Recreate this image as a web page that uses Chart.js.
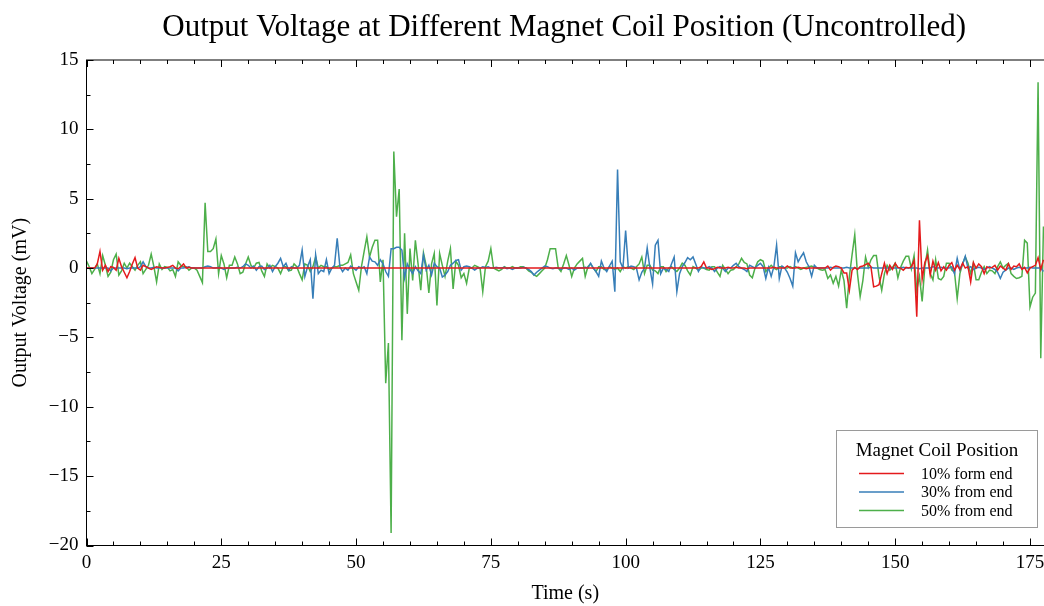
<!DOCTYPE html>
<html>
<head>
<meta charset="utf-8">
<title>Output Voltage at Different Magnet Coil Position</title>
<script src="https://cdn.jsdelivr.net/npm/chart.js@4.4.0/dist/chart.umd.min.js"></script>
<style>
  html, body { margin: 0; padding: 0; background: #ffffff; }
  #wrap { width: 1044px; height: 606px; }
</style>
</head>
<body>
<div id="wrap"><canvas id="voltageChart" width="1044" height="606"></canvas></div>
<script>
// Sampling period of the recorded signal (s)
const timeStep = 0.5;

// Output voltage (mV), one row per 10 s of recording
const volts10 = [
  0, 0, 0, 0, 0.3, 1.2, -0.15, 0.2, -0.25, 0.1, 0.05, -0.15, 0.7, 0.1, -0.3, -0.7, -0.25, 0.3, 0.75, 0.0,
  -0.15, 0.2, 0.1, 0.0, -0.1, 0.0, 0.1, 0.05, 0.0, 0.0, 0.05, 0.1, 0.2, 0.0, -0.05, 0.1, 0.3, 0.0, 0.05, 0.0,
  0, 0, 0, 0, 0, 0, 0, 0, 0, 0, 0, 0, 0, 0, 0, 0, 0, 0, 0, 0,
  0, 0, 0, 0, 0, 0, 0, 0, 0, 0, 0, 0, 0, 0, 0, 0, 0, 0, 0, 0,
  0, 0, 0, 0, 0, 0, 0, 0, 0, 0, 0, 0, 0, 0, 0, 0, 0, 0, 0, 0,
  0, 0, 0, 0, 0, 0, 0, 0, 0, 0, 0, 0, 0, 0, 0, 0, 0, 0, 0, 0,
  0, 0, 0, 0, 0, 0, 0, 0, 0, 0, 0, 0, 0, 0, 0, 0, 0, 0, 0, 0,
  0, 0, 0, 0, 0, 0, 0, 0, 0, 0, 0, 0, 0, 0, 0, 0, 0, 0, 0, 0,
  0, 0, 0, 0, 0, 0, 0, 0, 0, 0, 0, 0, 0, 0, 0, 0, 0, 0, 0, 0,
  0, 0, 0, 0, 0, 0, 0, 0, 0, 0, 0, 0, 0, 0, 0, 0, 0, 0, 0, 0,
  0, 0, 0, 0, 0, 0, 0, 0, 0, 0, 0, 0, 0, 0, 0, 0, 0, 0, 0, 0,
  0, 0, 0, 0, 0, 0, 0, 0, 0.1, 0.45, 0.0, 0.0, -0.1, -0.05, 0.05, 0.0, 0.0, 0.0, 0.05, 0.0,
  0, 0.05, 0, 0, 0, -0.05, 0, 0, 0, 0, 0, 0, 0, 0, 0, 0.05, 0, 0, 0, 0,
  0.15, 0, 0, 0, 0.05, 0, 0, -0.05, 0, 0, 0, 0, 0, 0, 0, 0.15, -0.15, 0.05, 0.15, 0.1,
  0.0, -0.35, -0.35, -1.6, -0.15, 0.05, -0.1, 0.1, 0.15, 0.25, 0.35, 0.1, -1.35, -1.3, -1.2, -0.4, 0.35, -0.4, 0.2, -0.1,
  0.35, 0.05, 0.0, -0.15, 0.05, 0.0, 0.1, 0.55, -3.5, 3.45, -0.8, 0.4, 0.9, -0.5, 0.5, -0.15, 0.4, -0.2, 0.1, -0.15,
  0.2, 0.4, -0.15, 0.2, -0.1, 0.35, 0.0, 0.1, -1.0, 0.4, 0.0, 0.3, 0.1, -0.4, 0.1, 0.0, 0.05, 0.2, -0.15, 0.15,
  0.0, -0.15, 0.3, -0.1, 0.15, 0.1, 0.3, -0.1, 0.05, -0.35, 0.0, 0.1, 0.2, 0.75, -0.1, 0.6
];

const volts30 = [
  0, 0, 0, 0, 0, 0, 0, 0, 0, -0.2, 0, 0, 0, 0, 0, -0.05, 0, 0, 0, 0,
  0.1, 0.45, 0.1, 0, 0, 0.05, 0, 0, 0, 0, 0, 0, 0, 0, -0.2, 0, 0, 0.05, 0.1, 0,
  0, 0, 0, 0, 0.1, 0.15, 0.1, 0, 0, 0.05, 0, -0.1, 0, 0, 0, 0, 0.05, 0, 0.1, 0.3,
  0.2, 0.0, 0.15, -0.15, 0.1, 0.15, -0.1, 0.0, 0.2, -0.25, 0.1, 0.35, 0.7, 0.1, 0.35, -0.15, 0.1, 0.0, 0.0, 0.2,
  1.3, -0.6, 0.1, 0.6, -2.2, 0.95, -0.4, -0.15, -0.25, 0.6, -0.4, 0.0, 0.2, 2.15, 0.1, -0.25, 0.0, -0.15, 0.15, 0.0,
  -0.15, 0.1, 0.0, 0.1, -0.4, 0.8, 0.5, 0.45, 0.2, 0.6, 0.3, -0.25, -0.6, 1.4, 1.4, 1.5, 1.5, 1.3, -0.7, 0.3,
  -0.1, -0.4, 0.1, -0.2, -0.4, 0.95, -0.15, 0.2, -0.5, 0.35, 0.1, 0.0, -0.65, -0.5, -0.25, 0.2, 0.35, 0.55, 0.6, -0.15,
  0.1, 0.15, 0.1, 0.0, -0.15, 0.0, 0.0, 0.1, 0.05, 0.1, 0.0, 0.0, 0.05, 0.0, 0.0, 0.05, -0.05, 0.0, -0.1, 0.0,
  0.0, 0.0, 0.05, 0.0, -0.1, -0.25, -0.5, -0.3, -0.15, 0.0, 0.15, 0.1, 0.0, -0.05, 0.0, 0.0, -0.1, 0.0, 0.0, -0.1,
  0.0, -0.15, 0.0, 0.0, 0.0, 0.05, 0.0, 0.35, 0.0, -0.25, -0.6, 0.5, 0.0, -0.25, 0.15, 0.5, -1.7, 7.1, 0.45, 0.0,
  2.7, 0.0, 0.15, 0.1, 0.0, -0.85, -0.3, 0.0, 1.45, 0.0, -1.15, 1.65, 2.0, -0.4, 0.0, -0.1, -0.25, 0.3, 0.8, -1.7,
  -0.4, 0.1, 0.4, 0.75, 0.6, 0.8, 0.3, -0.25, 0.1, 0.0, 0.0, 0.1, 0.0, -0.25, 0.0, 0.1, 0.0, -0.25, 0.0, 0.0,
  0.2, 0.35, 0.1, 0.0, -0.1, -0.25, 0.2, 0.1, 0.0, 0.2, 0.35, 0.1, -0.75, 0.05, -0.6, 0.1, 1.65, -0.75, 0.15, 0.0,
  -0.3, -0.75, -1.3, 1.1, 0.45, 0.8, 1.1, 0.45, 0.1, -0.6, 0.2, 0.0, 0.0, 0.0, 0.0, 0.0, 0.05, 0.0, 0.0, 0.0,
  0, 0, 0.05, 0, 0, 0, -0.05, 0, 0, 0, 0, 0.05, 0, 0, 0, 0, 0, 0, 0, 0,
  0, 0, 0, 0.05, 0, 0, 0, 0, 0, -0.05, 0, 0, 0, 0, 0.1, 0, 0, 0.05, 0, 0,
  0.0, 0.1, -0.4, 0.7, -0.15, 0.3, 0.85, 0.0, 0.1, -0.1, 0.0, 0.05, 0.0, -0.1, 0.0, 0.1, 0.0, -0.1, -0.3, -0.75,
  -0.3, -0.15, 0.0, 0.0, -0.1, 0.0, 0.05, 0.0, 0.0, 0.0, 0.05, 0.0, 0.0, 0.0, 0.0, -0.25
];

const volts50 = [
  0.5, 0.1, -0.4, -0.1, 0.3, -0.4, 0.9, 0.2, -0.6, -0.3, 0.6, 1.0, -0.5, -0.2, 0.35, 0.0, 0.35, 0.1, -0.15, 0.2,
  0.45, -0.4, -0.1, 0.2, 1.0, 0.1, -1.0, 0.3, -0.1, 0.1, 0.05, -0.2, -0.1, -0.6, 0.45, 0.2, 0.1, 0.1, -0.15, 0.0,
  0.0, -0.15, -0.6, -1.05, 4.7, 1.2, 1.2, 1.4, 2.1, -0.4, 0.9, 0.3, -0.7, 0.2, 0.2, 0.8, 0.3, -0.4, -0.3, 0.3,
  0.8, 0.2, 0.0, 0.35, 0.4, -0.2, -0.6, 0.3, 0.0, 0.2, 0.1, 0.0, -0.4, 0.1, 0.1, -0.2, -0.15, 0.3, 0.1, -0.4,
  -0.85, 0.3, 0.2, -0.25, 0.1, 0.8, 0.0, 0.2, 0.1, 0.1, -0.1, 0.0, 0.1, 0.1, 0.2, 0.2, 0.3, 0.4, 0.95, -0.4,
  -1.0, -1.6, 0.1, 1.2, 2.25, 0.8, 1.5, 2.0, 2.0, -1.0, 0.6, -8.3, -5.4, -19.1, 8.4, 3.7, 5.7, -5.2, 2.5, -3.3,
  1.4, -0.9, 2.0, 0.3, -1.6, 1.1, 0.2, -1.8, 0.3, 1.05, -2.7, 1.05, 0.2, -0.6, 0.5, 1.4, -1.5, 0.5, 0.2, -0.7,
  -0.4, -1.1, 0.0, 0.0, 0.2, 0.1, 0.0, -1.7, 0.1, 0.5, 1.4, 0.0, -0.1, -0.2, -0.1, 0.1, 0.0, 0.0, 0.1, 0.0,
  0.0, 0.1, 0.1, 0.0, -0.2, -0.3, -0.5, -0.6, -0.4, -0.2, 0.0, 0.6, 1.4, 1.4, 1.4, 0.0, -0.25, 0.3, 0.9, 0.2,
  -0.6, 0.0, 0.3, 0.5, 0.7, -0.6, 0.1, 0.3, 0.0, -0.25, 0.1, 0.1, -0.1, -0.1, 0.1, 0.0, -0.1, 0.0, -0.25, 0.1,
  0.0, 0.1, 0.0, -0.1, 0.1, 0.3, 0.8, -0.4, 0.2, 0.2, -0.15, -0.2, -0.4, 0.1, 0.1, -0.25, 0.0, 0.1, -0.1, -0.25,
  0.0, 0.35, 0.2, -0.2, -0.5, 0.1, 0.0, -0.15, 0.0, 0.0, -0.1, -0.15, 0.1, 0.1, -0.3, -0.6, 0.2, -0.1, -0.4, -0.15,
  -0.1, 0.1, 0.3, 0.7, 0.4, 0.3, -0.5, -0.7, 0.0, 0.45, 0.6, 0.5, -0.25, 0.0, 0.2, 0.0, -0.1, 0.1, 0.1, 0.0,
  0.0, 0.1, 0.0, 0.1, 0.0, -0.1, 0.0, 0.05, 0.1, 0.15, 0.05, 0.0, -0.1, -0.15, -0.1, -0.75, -0.5, -1.1, -0.6, -1.3,
  -0.15, -0.9, -2.9, -0.6, 0.95, 2.4, -0.4, -2.05, -0.9, 0.8, 0.05, 0.6, 0.9, 0.9, -0.6, -1.6, -0.4, 0.2, -0.15, 0.05,
  0.35, -0.7, 0.05, 0.5, 0.85, 0.85, -0.05, 0.9, -1.6, -0.6, -2.4, 0.1, 1.3, -0.4, -0.85, 0.6, -0.75, -0.85, -0.6, 0.35,
  0.35, -0.15, -0.3, -2.2, -0.4, 0.3, 0.8, 0.35, -0.4, 0.35, -0.85, -0.85, -0.3, 0.1, -0.4, -0.15, -0.2, -0.4, 0.1, 0.45,
  0.0, 0.2, 0.35, -0.4, -0.6, -0.75, -0.7, -0.6, 2.0, 1.8, -2.8, -2.1, -1.8, 13.4, -6.5, 3.0
];

const seriesLabels = ['10% form end', '30% from end', '50% from end'];
const seriesColors = ['#e41a1c', '#377eb8', '#4daf4a'];
const xTickStep = 25;
const yTickStep = 5;

const serif = "'Liberation Serif', 'Times New Roman', serif";
Chart.defaults.font.family = serif;
Chart.defaults.color = '#000';

function toPoints(values) {
    return values.map((v, i) => ({ x: i * timeStep, y: v }));
}

// frame + inward ticks (the right edge of the frame sits just past the canvas, as in the original)
const frameTicks = {
    id: 'frameTicks',
    afterDraw(chart) {
        const { ctx, chartArea: a, scales: { x, y } } = chart;
        const right = a.right + 2;
        ctx.save();
        ctx.strokeStyle = '#000';
        ctx.lineWidth = 1;
        ctx.strokeRect(a.left, a.top, right - a.left, a.bottom - a.top);
        ctx.beginPath();
        for (let t = 0; t <= x.max; t += 5) {
            const px = Math.round(x.getPixelForValue(t)) + 0.5;
            const len = t % xTickStep === 0 ? 7 : 4;
            ctx.moveTo(px, a.bottom); ctx.lineTo(px, a.bottom - len);
            ctx.moveTo(px, a.top); ctx.lineTo(px, a.top + len);
        }
        for (let v = y.min; v <= y.max; v += 2.5) {
            const py = Math.round(y.getPixelForValue(v)) + 0.5;
            const len = v % yTickStep === 0 ? 7 : 4;
            ctx.moveTo(a.left, py); ctx.lineTo(a.left + len, py);
        }
        ctx.stroke();
        ctx.restore();
    }
};

// title centred over the plot area
const plotTitle = {
    id: 'plotTitle',
    afterDraw(chart) {
        const { ctx, chartArea: a } = chart;
        ctx.save();
        ctx.font = '31px ' + serif;
        ctx.fillStyle = '#000';
        ctx.textAlign = 'center';
        ctx.textBaseline = 'alphabetic';
        ctx.fillText('Output Voltage at Different Magnet Coil Position (Uncontrolled)', (a.left + a.right) / 2 - 1, 36);
        ctx.restore();
    }
};

// boxed legend in the lower right corner of the plot
const boxLegend = {
    id: 'boxLegend',
    afterDraw(chart) {
        const { ctx } = chart;
        const bx = 836.5, by = 430.5, bw = 201, bh = 97;
        ctx.save();
        ctx.fillStyle = '#fff';
        ctx.fillRect(bx, by, bw, bh);
        ctx.strokeStyle = '#9a9a9a';
        ctx.lineWidth = 1;
        ctx.strokeRect(bx, by, bw, bh);
        ctx.fillStyle = '#000';
        ctx.textAlign = 'center';
        ctx.textBaseline = 'alphabetic';
        ctx.font = '19px ' + serif;
        ctx.fillText('Magnet Coil Position', bx + bw / 2, by + 25);
        ctx.font = '16px ' + serif;
        ctx.textAlign = 'left';
        chart.data.datasets.forEach((ds, i) => {
            const rowY = by + 43 + i * 18.5;
            ctx.strokeStyle = ds.borderColor;
            ctx.lineWidth = 1.5;
            ctx.beginPath();
            ctx.moveTo(859, rowY);
            ctx.lineTo(904, rowY);
            ctx.stroke();
            ctx.fillText(ds.label, 921, rowY + 5);
        });
        ctx.restore();
    }
};

const ctx = document.getElementById('voltageChart').getContext('2d');
const chart = new Chart(ctx, {
    type: 'line',
    data: {
        datasets: [volts10, volts30, volts50].map((vals, i) => ({
            label: seriesLabels[i],
            data: toPoints(vals),
            borderColor: seriesColors[i],
            backgroundColor: seriesColors[i],
            borderWidth: 1.5,
            pointRadius: 0,
            tension: 0,
            fill: false
        }))
    },
    options: {
        responsive: false,
        animation: false,
        devicePixelRatio: 1,
        layout: { padding: { top: 60, right: 0, bottom: 0, left: 0 } },
        plugins: {
            legend: { display: false },
            title: { display: false },
            tooltip: { enabled: false }
        },
        scales: {
            x: {
                type: 'linear',
                min: 0,
                max: 177.6,
                border: { display: false },
                grid: { display: false, drawTicks: false },
                ticks: {
                    stepSize: xTickStep,
                    includeBounds: false,
                    autoSkip: false,
                    maxRotation: 0,
                    padding: 6,
                    color: '#000',
                    font: { size: 19 }
                },
                title: {
                    display: true,
                    text: 'Time (s)',
                    color: '#000',
                    font: { size: 20 },
                    padding: { top: 0, bottom: 0 }
                },
                afterFit: s => {
                    s.height = 60.5;
                    s.paddingLeft = 0;
                    s.paddingRight = 0;
                }
            },
            y: {
                type: 'linear',
                min: -20,
                max: 15,
                border: { display: false },
                grid: { display: false, drawTicks: false },
                ticks: {
                    stepSize: yTickStep,
                    padding: 8,
                    color: '#000',
                    font: { size: 19 },
                    callback: v => String(v).replace('-', '\u2212')
                },
                title: {
                    display: true,
                    text: 'Output Voltage (mV)',
                    color: '#000',
                    font: { size: 20 },
                    padding: { top: 9, bottom: 0 }
                },
                afterFit: s => {
                    s.width = 86.5;
                    s.paddingTop = 0;
                    s.paddingBottom = 0;
                }
            }
        }
    },
    plugins: [frameTicks, plotTitle, boxLegend]
});
</script>
</body>
</html>
